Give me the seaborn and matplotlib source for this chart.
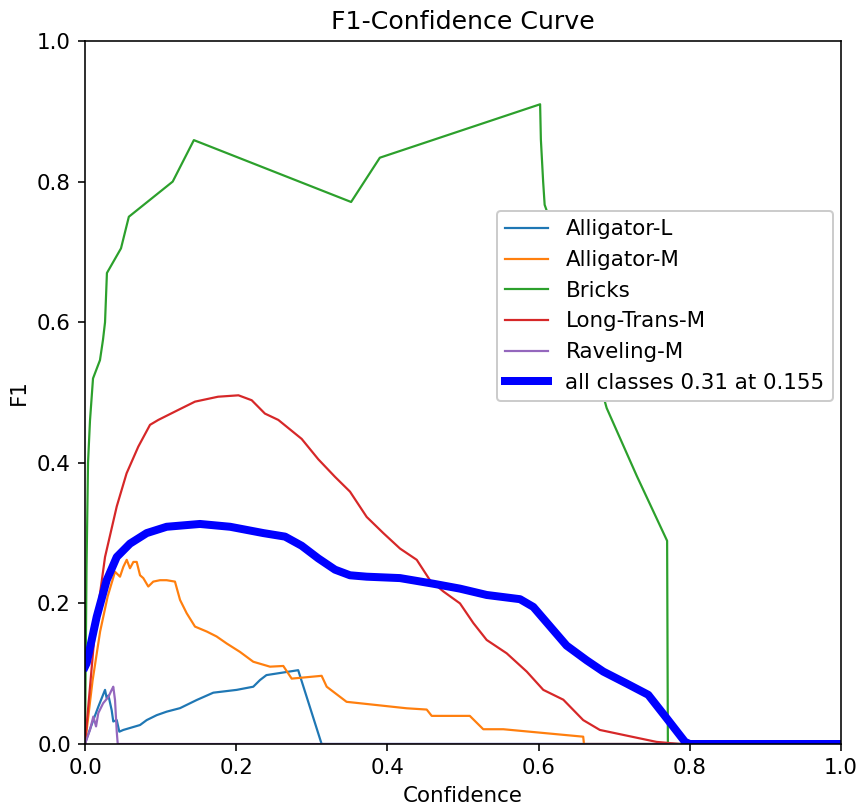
import numpy as np
import pandas as pd
import matplotlib
matplotlib.use("Agg")
import matplotlib.pyplot as plt
import seaborn as sns

# ---- data ----
class_names = ["Alligator-L", "Alligator-M", "Bricks", "Long-Trans-M", "Raveling-M"]
all_label = "all classes 0.31 at 0.155"

alligator_l_x = [0.0, 0.0022, 0.011, 0.0176, 0.0265, 0.0287, 0.031, 0.0353, 0.0374, 0.042, 0.0454,
                 0.0507, 0.0728, 0.0816, 0.0948, 0.108, 0.1257, 0.1478, 0.1697, 0.2007, 0.2226,
                 0.2315, 0.240, 0.258, 0.282, 0.313, 1.0]
alligator_l_y = [0.0, 0.008, 0.034, 0.053, 0.077, 0.065, 0.069, 0.048, 0.032, 0.034, 0.0175,
                 0.020, 0.027, 0.034, 0.041, 0.046, 0.051, 0.0626, 0.073, 0.077, 0.0815,
                 0.091, 0.098, 0.101, 0.105, 0.0, 0.0]

alligator_m_x = [0.0, 0.01, 0.02, 0.03, 0.0397, 0.0463, 0.0507, 0.0552, 0.0595, 0.064, 0.0684,
                 0.0728, 0.0771, 0.0837, 0.0903, 0.0992, 0.108, 0.119, 0.1257, 0.1345, 0.1455,
                 0.161, 0.174, 0.1874, 0.205, 0.2226, 0.2447, 0.2623, 0.2734, 0.313, 0.3197,
                 0.346, 0.4255, 0.452, 0.4586, 0.509, 0.5268, 0.5533, 0.659, 0.660, 1.0]
alligator_m_y = [0.0, 0.09, 0.16, 0.21, 0.245, 0.238, 0.252, 0.262, 0.250, 0.259, 0.259,
                 0.240, 0.236, 0.224, 0.231, 0.233, 0.233, 0.231, 0.205, 0.186, 0.167,
                 0.160, 0.153, 0.143, 0.131, 0.117, 0.110, 0.111, 0.093, 0.097, 0.0815,
                 0.060, 0.0508, 0.049, 0.040, 0.040, 0.021, 0.021, 0.0104, 0.0, 0.0]

bricks_x = [0.0, 0.002, 0.004, 0.0066, 0.0106, 0.0198, 0.0238, 0.0265, 0.029, 0.0476, 0.058,
            0.116, 0.144, 0.352, 0.390, 0.602, 0.603, 0.606, 0.608, 0.63, 0.65, 0.67, 0.69,
            0.73, 0.770, 0.771, 1.0]
bricks_y = [0.0, 0.25, 0.40, 0.46, 0.52, 0.546, 0.575, 0.60, 0.67, 0.705, 0.75,
            0.80, 0.859, 0.771, 0.834, 0.910, 0.86, 0.80, 0.767, 0.70, 0.63, 0.555, 0.478,
            0.381, 0.289, 0.0, 0.0]

long_trans_x = [0.0, 0.0132, 0.0265, 0.042, 0.055, 0.0705, 0.086, 0.097, 0.123, 0.1455, 0.176,
                0.203, 0.2205, 0.238, 0.2557, 0.2866, 0.3086, 0.3307, 0.3505, 0.3726, 0.3946,
                0.4167, 0.4388, 0.4563, 0.474, 0.496, 0.5137, 0.5313, 0.5578, 0.5843, 0.6062,
                0.6327, 0.659, 0.681, 0.725, 0.756, 0.787, 1.0]
long_trans_y = [0.0, 0.162, 0.266, 0.338, 0.385, 0.423, 0.454, 0.461, 0.475, 0.487, 0.494,
                0.496, 0.489, 0.470, 0.461, 0.434, 0.405, 0.380, 0.359, 0.323, 0.300,
                0.278, 0.262, 0.233, 0.217, 0.200, 0.172, 0.148, 0.129, 0.103, 0.077,
                0.063, 0.034, 0.020, 0.010, 0.003, 0.0, 0.0]

raveling_x = [0.0, 0.0066, 0.011, 0.0146, 0.0176, 0.024, 0.031, 0.0353, 0.0374, 0.0397, 0.042,
              0.0433, 1.0]
raveling_y = [0.0, 0.02, 0.039, 0.025, 0.044, 0.058, 0.067, 0.077, 0.0815, 0.0626, 0.0175,
              0.0, 0.0]

all_x = [0.0, 0.0022, 0.0155, 0.0287, 0.042, 0.0595, 0.0816, 0.108, 0.152, 0.192, 0.236,
         0.2646, 0.2866, 0.3086, 0.3307, 0.3505, 0.3726, 0.4167, 0.4607, 0.496, 0.5313,
         0.5754, 0.593, 0.6194, 0.637, 0.6636, 0.6856, 0.7165, 0.745, 0.7695, 0.7937, 0.80, 1.0]
all_y = [0.11, 0.115, 0.181, 0.233, 0.266, 0.285, 0.300, 0.309, 0.313, 0.309, 0.300,
         0.295, 0.282, 0.264, 0.248, 0.240, 0.238, 0.236, 0.228, 0.221, 0.212,
         0.206, 0.195, 0.162, 0.140, 0.119, 0.103, 0.086, 0.070, 0.0365, 0.003, 0.0, 0.0]

xticks = [0.0, 0.2, 0.4, 0.6, 0.8, 1.0]
yticks = [0.0, 0.2, 0.4, 0.6, 0.8, 1.0]

series = [
    (alligator_l_x, alligator_l_y),
    (alligator_m_x, alligator_m_y),
    (bricks_x, bricks_y),
    (long_trans_x, long_trans_y),
    (raveling_x, raveling_y),
]

# ---- figure ----
plt.rcParams["font.size"] = 10.7
plt.rcParams["axes.titlesize"] = 12.6
fig = plt.figure(figsize=(860 / 144, 805 / 144), dpi=144)
ax = fig.add_axes([85 / 860, 1 - 744 / 805, (841 - 85) / 860, (744 - 41) / 805])

colors = sns.color_palette("tab10")
for i, (name, (xs, ys)) in enumerate(zip(class_names, series)):
    df = pd.DataFrame({"Confidence": xs, "F1": ys})
    sns.lineplot(data=df, x="Confidence", y="F1", ax=ax, color=colors[i], linewidth=1.1,
                 label=name, estimator=None, sort=False)

df_all = pd.DataFrame({"Confidence": all_x, "F1": all_y})
sns.lineplot(data=df_all, x="Confidence", y="F1", ax=ax, color="blue", linewidth=4,
             label=all_label, estimator=None, sort=False)

ax.set_xlim(0, 1)
ax.set_ylim(0, 1)
ax.set_xticks(xticks)
ax.set_yticks(yticks)
ax.set_xlabel("Confidence")
ax.set_ylabel("F1")
ax.set_title("F1-Confidence Curve")
ax.legend(loc="upper right", bbox_to_anchor=(0.9895, 0.7585), borderaxespad=0, framealpha=1)

fig.savefig("out.png", dpi=144)
